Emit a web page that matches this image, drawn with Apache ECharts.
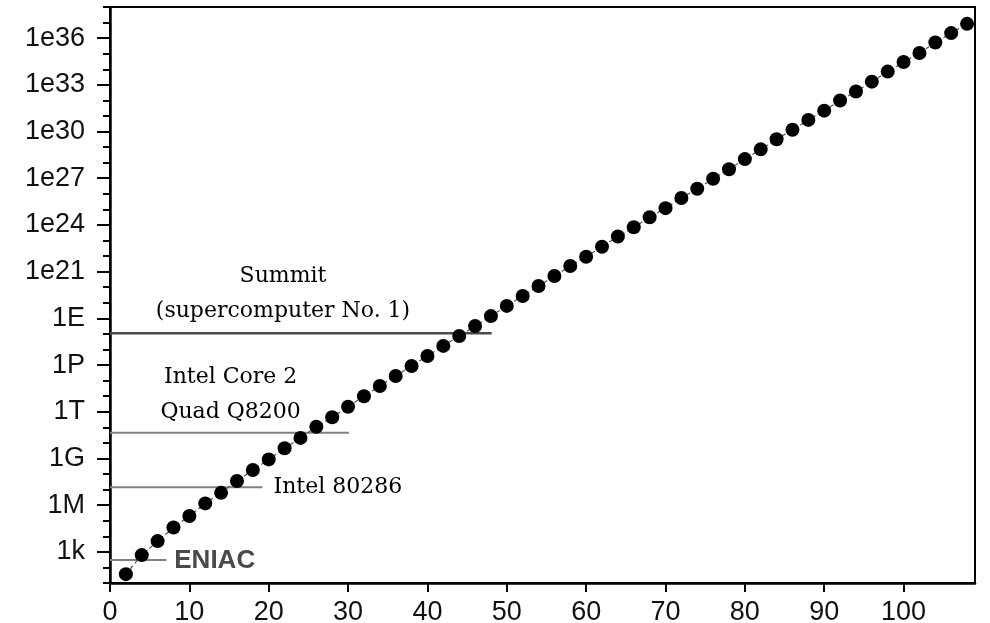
<!DOCTYPE html>
<html><head><meta charset="utf-8">
<script src="https://cdn.jsdelivr.net/npm/echarts@6/dist/echarts.min.js"></script>
<style>html,body{margin:0;padding:0;background:#fff}#c{width:990px;height:623px}</style>
</head><body><div id="c"></div>
<script>
// ---- data ----
const xValues = [2,4,6,8,10,12,14,16,18,20,22,24,26,28,30,32,34,36,38,40,42,44,46,48,50,52,54,
  56,58,60,62,64,66,68,70,72,74,76,78,80,82,84,86,88,90,92,94,96,98,100,102,104,106,108];
const flops = [3.7e1,6.2e2,4.9e3,3.7e4,2.0e5,1.3e6,6.2e6,3.6e7,1.8e8,8.7e8,4.5e9,2.1e10,1.1e11,4.4e11,
  2.1e12,1.0e13,4.5e13,2.0e14,8.7e14,3.8e15,1.7e16,7.4e16,3.2e17,1.4e18,6.3e18,2.7e19,1.2e20,
  5.2e20,2.3e21,9.1e21,4.0e22,1.8e23,7.1e23,3.1e24,1.2e25,5.4e25,2.1e26,9.3e26,3.8e27,1.7e28,7.2e28,
  3.2e29,1.3e30,5.6e30,2.2e31,9.8e31,3.7e32,1.6e33,7.1e33,2.9e34,1.1e35,5.2e35,2.1e36,8.3e36];

const refNames = ['ENIAC', 'Intel 80286', 'Intel Core 2\nQuad Q8200', 'Summit\n(supercomputer No. 1)'];
const refLevels = [3.0e2, 1.4e7, 4.5e10, 1.1e17];
const refLineEnds = [7.1, 19.2, 30.1, 48.1];
const refLabelX = [8.1, 20.6, 15.2, 21.8];
const refLabelY = [2.6e2, 1.5e7, 1.3e13, 3.9e19];

const xTickValues = [0,10,20,30,40,50,60,70,80,90,100];
const yTickValues = [1e3,1e6,1e9,1e12,1e15,1e18,1e21,1e24,1e27,1e30,1e33,1e36];
const yTickLabels = ['1k','1M','1G','1T','1P','1E','1e21','1e24','1e27','1e30','1e33','1e36'];
const yMinorTickValues = [1e1,1e2,1e3,1e4,1e5,1e6,1e7,1e8,1e9,1e10,1e11,1e12,1e13,1e14,1e15,1e16,1e17,
  1e18,1e19,1e20,1e21,1e22,1e23,1e24,1e25,1e26,1e27,1e28,1e29,1e30,1e31,1e32,1e33,1e34,1e35,1e36,1e37,1e38];

// ---- chart ----
function yLabel(v) {
  const e = Math.round(Math.log10(v));
  for (let i = 0; i < yTickValues.length; i++) {
    if (Math.round(Math.log10(yTickValues[i])) === e) return yTickLabels[i];
  }
  return '';
}

const refLineColors = ['#808080', '#808080', '#808080', '#4a4a4a'];
const refLineWidths = [2, 2, 2, 2.5];

const series = [];
refNames.forEach((n, i) => {
  series.push({
    type: 'line', name: n + ' level', data: [[0, refLevels[i]], [refLineEnds[i], refLevels[i]]],
    symbol: 'none', silent: true, z: 2,
    lineStyle: { color: refLineColors[i], width: refLineWidths[i] }
  });
});
series.push({
  type: 'line', name: 'performance', data: xValues.map((x, i) => [x, flops[i]]),
  symbol: 'circle', symbolSize: 14, z: 5,
  itemStyle: { color: '#000' },
  lineStyle: { color: '#555', width: 1.2, type: [4, 3] }
});
const serifLabel = { fontFamily: 'DejaVu Serif', fontSize: 22, color: '#000', lineHeight: 35, opacity: 1 };
series.push({
  type: 'scatter', name: 'labels', symbolSize: 0, silent: true, z: 6,
  itemStyle: { color: '#000', opacity: 1 },
  data: refNames.map((n, i) => {
    let label;
    if (i === 0) {
      label = { show: true, position: 'right', distance: 0, formatter: n, opacity: 1,
        fontFamily: 'Liberation Sans', fontWeight: 'bold', fontSize: 26, color: '#4a4a4a' };
    } else if (i === 1) {
      label = Object.assign({ show: true, position: 'right', distance: 0, formatter: n }, serifLabel);
    } else {
      label = Object.assign({ show: true, position: 'inside', align: 'center', verticalAlign: 'middle', formatter: n }, serifLabel);
    }
    return { value: [refLabelX[i], refLabelY[i]], label: label };
  })
});

const chart = echarts.init(document.getElementById('c'), null, { renderer: 'canvas' });
chart.setOption({
  animation: false,
  backgroundColor: '#fff',
  grid: { left: 110, right: 15, top: 7, bottom: 40, show: true, borderColor: '#000', borderWidth: 2,
    containLabel: false, outerBoundsMode: 'none' },
  xAxis: {
    type: 'value', min: 0, max: 109,
    axisLine: { show: true, lineStyle: { color: '#000', width: 2.5 } },
    axisTick: { show: true, inside: false, length: 9, customValues: xTickValues, lineStyle: { color: '#000', width: 2 } },
    axisLabel: { customValues: xTickValues, fontFamily: 'Liberation Sans', fontSize: 27, color: '#111', margin: 16 },
    splitLine: { show: false }
  },
  yAxis: [{
    type: 'log', logBase: 10, min: 1e1, max: 1e38, position: 'left',
    axisLine: { show: true, lineStyle: { color: '#000', width: 2.5 } },
    axisTick: { show: true, inside: false, length: 13, customValues: yTickValues, lineStyle: { color: '#000', width: 2 } },
    axisLabel: { customValues: yTickValues, formatter: yLabel, fontFamily: 'Liberation Sans', fontSize: 27, color: '#111', margin: 25 },
    splitLine: { show: false }
  }, {
    type: 'log', logBase: 10, min: 1e1, max: 1e38, position: 'left',
    axisLine: { show: false },
    axisTick: { show: true, inside: false, length: 7, customValues: yMinorTickValues, lineStyle: { color: '#000', width: 2 } },
    axisLabel: { show: false },
    splitLine: { show: false }
  }],
  series: series
});
</script></body></html>
